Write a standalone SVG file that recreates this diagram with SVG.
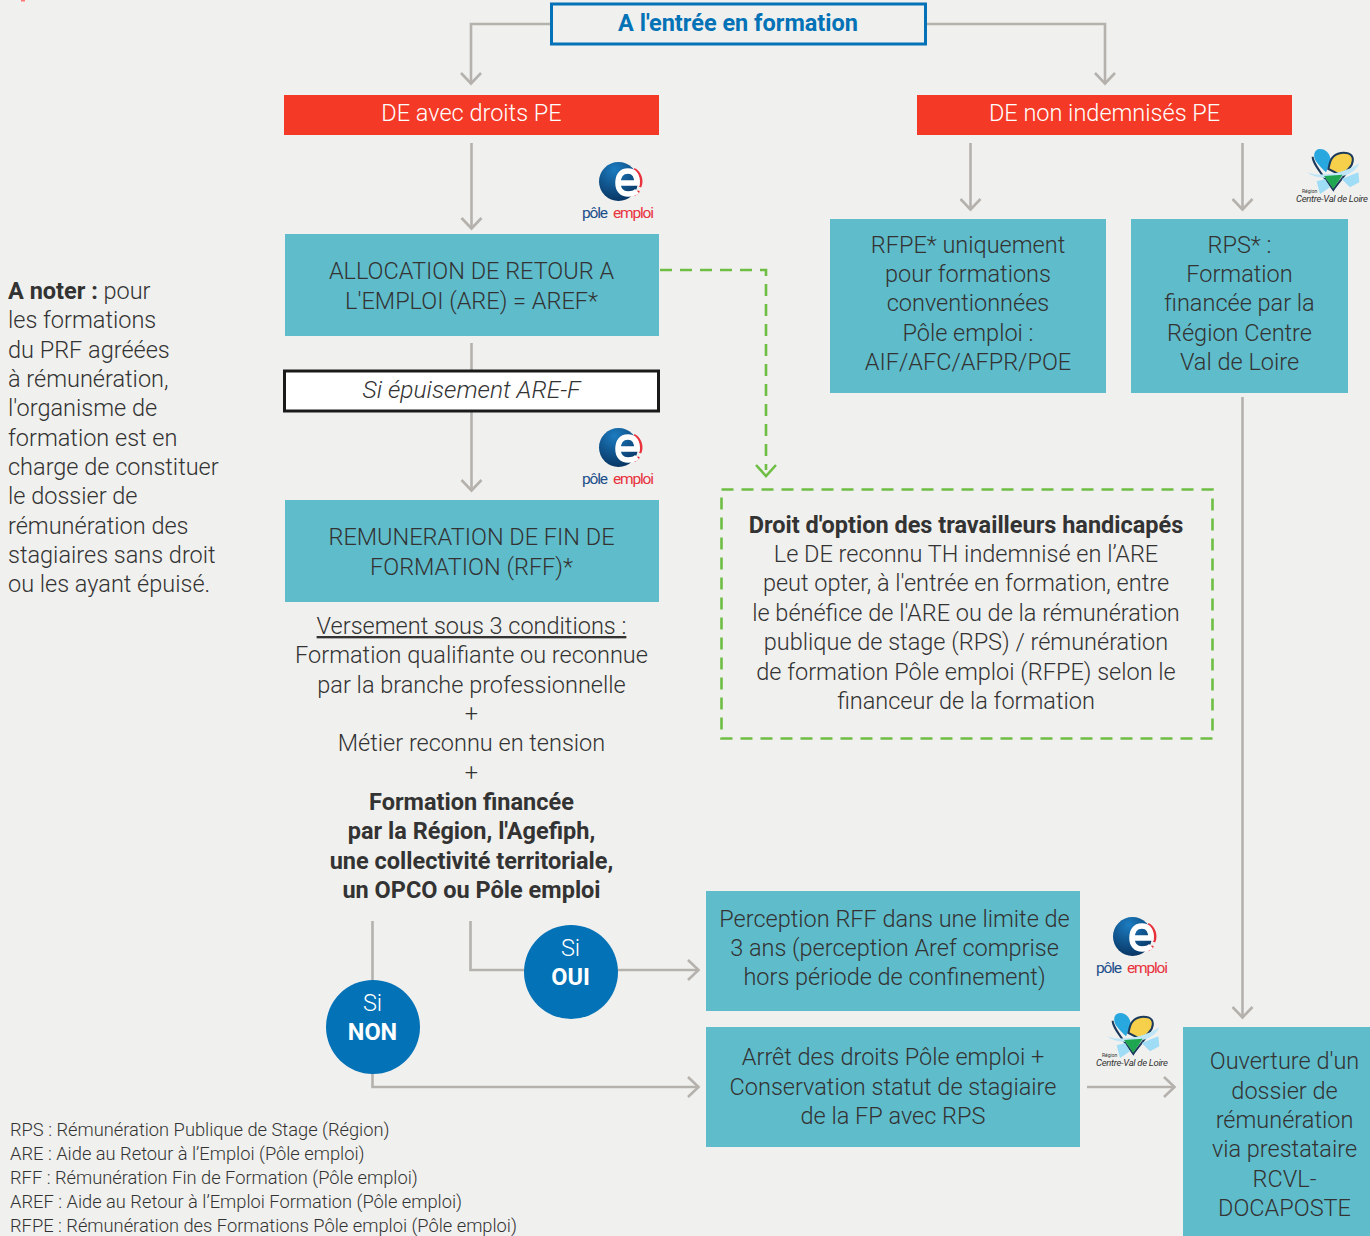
<svg xmlns="http://www.w3.org/2000/svg" width="1370" height="1236" viewBox="0 0 1370 1236">
<style>
text{font-family:Roboto,"Liberation Sans",sans-serif;font-weight:300;font-size:23.5px;fill:#333333}
.c{text-anchor:middle}
.b{font-weight:700}
.teal{fill:#5fbccb}
.red{fill:#f43a26}
.w{fill:#ffffff}
.leg{font-size:18.3px}
.conn{fill:none;stroke:#b5b2ae;stroke-width:2.6}
.circ{fill:#0472b6}
</style>
<defs>
<marker id="ah" markerUnits="userSpaceOnUse" viewBox="0 0 16 24" refX="13.500" refY="12" markerWidth="16" markerHeight="24" orient="auto"><path d="M2.500 2L13 12L2.500 22" fill="none" stroke="#b5b2ae" stroke-width="2.6"/></marker>
<radialGradient id="pe" cx="0.4" cy="0.2" r="0.85"><stop offset="0" stop-color="#1c7cc0"/><stop offset="1" stop-color="#07325f"/></radialGradient>
<g id="pelogo">
<circle cx="-0.500" cy="-0.500" r="19.500" fill="url(#pe)"/>
<path d="M15 -13A14 14 0 0 1 21 5M20 9A14 14 0 0 1 15 13" fill="none" stroke="#e8323c" stroke-width="2.5"/>
<path d="M0 1H18C18 -7 15 -11 9 -11C2 -11 -1 -6 -1 1C-1 8 3 12 9 12C13 12 16 11 18 9" fill="none" stroke="#fff" stroke-width="5.500"/>
<text x="-37" y="36" textLength="26" style="font-size:15.5px;font-weight:400;fill:#1b4f8a">pôle</text>
<text x="-6" y="36" textLength="41" style="font-size:15.5px;font-weight:400;fill:#e8323c">emploi</text>
</g>
<g id="rclogo">
<g transform="scale(0.3333) translate(-99 -84)">
<path d="M60 15C40 15 38 40 50 55C58 65 70 78 78 85C85 70 90 55 92 45C88 25 75 15 60 15Z" fill="#29a8e0"/>
<path d="M92 50C100 30 125 22 145 28C165 35 160 60 148 72C140 82 125 88 115 90L85 75C88 65 88 60 92 50Z" fill="#f6cf4b" stroke="#1b3a5c" stroke-width="6"/>
<path d="M38 38C38 60 70 95 100 138C112 120 135 95 148 72" fill="none" stroke="#1b3a5c" stroke-width="6"/>
<path d="M20 85C60 100 130 90 178 58C170 80 140 100 100 100C70 105 40 100 20 85Z" fill="#bfe6f7"/>
<path d="M72 96L128 92L100 134Z" fill="#1fa650"/>
<path d="M50 112L75 105L90 130L60 150ZM125 105L175 85L178 115L150 130Z" fill="#9fdcf5"/>
</g>
<text x="-31" y="21" style="font-size:5px;font-weight:400">Région</text>
<text x="-37" y="30" textLength="72" lengthAdjust="spacing" style="font-size:9.5px;font-weight:400;font-style:italic">Centre-Val de Loire</text>
</g>
</defs>
<rect width="1370" height="1236" fill="#f0f0ee"/>
<rect x="21" y="0" width="4" height="1.500" fill="#f77"/>

<g id="connectors">
<path class="conn" d="M551 24H471V84" marker-end="url(#ah)"/>
<path class="conn" d="M926 24H1105V84" marker-end="url(#ah)"/>
<path class="conn" d="M471.500 143V229" marker-end="url(#ah)"/>
<path class="conn" d="M970.500 143V210" marker-end="url(#ah)"/>
<path class="conn" d="M1242.500 143V210" marker-end="url(#ah)"/>
<path class="conn" d="M471.500 343V371"/>
<path class="conn" d="M471.500 411V491" marker-end="url(#ah)"/>
<path d="M660 270H766V470" fill="none" stroke="#6fbe44" stroke-width="2.6" stroke-dasharray="12 8"/>
<path d="M756 465L766 476L776 465" fill="none" stroke="#6fbe44" stroke-width="2.6"/>
<path class="conn" d="M1242.500 397V1018" marker-end="url(#ah)"/>
<path class="conn" d="M470.500 921V970H699" marker-end="url(#ah)"/>
<path class="conn" d="M372.500 921V1087H699" marker-end="url(#ah)"/>
<path class="conn" d="M1087 1087H1175" marker-end="url(#ah)"/>
</g>

<g id="n-entree">
<rect x="551.500" y="4" width="374" height="40" fill="#f0f0ee" stroke="#0472b6" stroke-width="3"/>
<text class="c b" x="738" y="31" style="fill:#0472b6">A l'entrée en formation</text>
</g>
<g id="n-de-droits"><rect class="red" x="284" y="95" width="375" height="40"/><text class="c w" x="471.500" y="121">DE avec droits PE</text></g>
<g id="n-de-non"><rect class="red" x="917" y="95" width="375" height="40"/><text class="c w" x="1104.500" y="121">DE non indemnisés PE</text></g>
<g id="n-are"><rect class="teal" x="285" y="234" width="374" height="102"/>
<text class="c" x="471.500" y="279">ALLOCATION DE RETOUR A</text><text class="c" x="471.500" y="309">L'EMPLOI (ARE) = AREF*</text></g>
<g id="n-epuisement"><rect x="284.500" y="371" width="374" height="40" fill="#fff" stroke="#1a1a1a" stroke-width="3"/>
<text class="c" x="471.500" y="398" font-style="italic" style="font-size:24.6px">Si épuisement ARE-F</text></g>
<g id="n-rff"><rect class="teal" x="285" y="500" width="374" height="102"/>
<text class="c" x="471.500" y="545">REMUNERATION DE FIN DE</text><text class="c" x="471.500" y="575">FORMATION (RFF)*</text></g>
<g id="n-rfpe"><rect class="teal" x="830" y="219" width="276" height="174"/>
<text class="c" x="968" y="252.500">RFPE* uniquement</text><text class="c" x="968" y="282">pour formations</text><text class="c" x="968" y="311">conventionnées</text><text class="c" x="968" y="340.500">Pôle emploi :</text><text class="c" x="968" y="370">AIF/AFC/AFPR/POE</text></g>
<g id="n-rps"><rect class="teal" x="1131" y="219" width="217" height="174"/>
<text class="c" x="1239.500" y="252.500">RPS* :</text><text class="c" x="1239.500" y="282">Formation</text><text class="c" x="1239.500" y="311">financée par la</text><text class="c" x="1239.500" y="340.500">Région Centre</text><text class="c" x="1239.500" y="370">Val de Loire</text></g>
<g id="n-option"><rect x="721.500" y="489.500" width="491" height="249" fill="none" stroke="#6fbe44" stroke-width="2.6" stroke-dasharray="12 8"/>
<text class="c b" x="966" y="533">Droit d'option des travailleurs handicapés</text>
<text class="c" x="966" y="562">Le DE reconnu TH indemnisé en l’ARE</text>
<text class="c" x="966" y="591">peut opter, à l'entrée en formation, entre</text>
<text class="c" x="966" y="621">le bénéfice de l'ARE ou de la rémunération</text>
<text class="c" x="966" y="650">publique de stage (RPS) / rémunération</text>
<text class="c" x="966" y="680">de formation Pôle emploi (RFPE) selon le</text>
<text class="c" x="966" y="709">financeur de la formation</text></g>
<g id="n-note">
<text x="8" y="299"><tspan class="b">A noter :</tspan> pour</text>
<text x="8" y="328">les formations</text>
<text x="8" y="358">du PRF agréées</text>
<text x="8" y="387">à rémunération,</text>
<text x="8" y="416">l'organisme de</text>
<text x="8" y="446">formation est en</text>
<text x="8" y="475">charge de constituer</text>
<text x="8" y="504">le dossier de</text>
<text x="8" y="534">rémunération des</text>
<text x="8" y="563">stagiaires sans droit</text>
<text x="8" y="592">ou les ayant épuisé.</text>
</g>
<g id="n-conditions">
<text class="c" x="471.500" y="634" text-decoration="underline">Versement sous 3 conditions :</text>
<text class="c" x="471.500" y="663">Formation qualifiante ou reconnue</text>
<text class="c" x="471.500" y="693">par la branche professionnelle</text>
<text class="c" x="471.500" y="722">+</text>
<text class="c" x="471.500" y="750.500">Métier reconnu en tension</text>
<text class="c" x="471.500" y="781">+</text>
<text class="c b" x="471.500" y="809.500">Formation financée</text>
<text class="c b" x="471.500" y="839">par la Région, l'Agefiph,</text>
<text class="c b" x="471.500" y="868.500">une collectivité territoriale,</text>
<text class="c b" x="471.500" y="898">un OPCO ou Pôle emploi</text>
</g>
<g id="n-oui"><circle class="circ" cx="571" cy="972" r="47"/><text class="c w" x="570.500" y="955.500">Si</text><text class="c b w" x="570.500" y="985">OUI</text></g>
<g id="n-non"><circle class="circ" cx="373" cy="1027" r="47"/><text class="c w" x="372.500" y="1010.500">Si</text><text class="c b w" x="372.500" y="1040">NON</text></g>
<g id="n-perception"><rect class="teal" x="706" y="891" width="374" height="120"/>
<text class="c" x="894.500" y="926.500">Perception RFF dans une limite de</text><text class="c" x="894.500" y="956">3 ans (perception Aref comprise</text><text class="c" x="894.500" y="985">hors période de confinement)</text></g>
<g id="n-arret"><rect class="teal" x="706" y="1027" width="374" height="120"/>
<text class="c" x="893" y="1065">Arrêt des droits Pôle emploi +</text><text class="c" x="893" y="1095">Conservation statut de stagiaire</text><text class="c" x="893" y="1124">de la FP avec RPS</text></g>
<g id="n-ouverture"><rect class="teal" x="1183" y="1027" width="187" height="209"/>
<text class="c" x="1284.500" y="1069">Ouverture d'un</text><text class="c" x="1284.500" y="1099">dossier de</text><text class="c" x="1284.500" y="1128">rémunération</text><text class="c" x="1284.500" y="1157">via prestataire</text><text class="c" x="1284.500" y="1187">RCVL-</text><text class="c" x="1284.500" y="1216">DOCAPOSTE</text></g>
<g id="logo-pe1"><use href="#pelogo" x="619" y="182"/></g>
<g id="logo-pe2"><use href="#pelogo" x="619" y="448"/></g>
<g id="logo-pe3"><use href="#pelogo" x="1133" y="937"/></g>
<g id="logo-rc1"><use href="#rclogo" x="1333" y="172"/></g>
<g id="logo-rc2"><use href="#rclogo" x="1133" y="1036"/></g>
<g id="n-legend">
<text class="leg" x="10" y="1136">RPS : Rémunération Publique de Stage (Région)</text>
<text class="leg" x="10" y="1160">ARE : Aide au Retour à l’Emploi (Pôle emploi)</text>
<text class="leg" x="10" y="1184">RFF : Rémunération Fin de Formation (Pôle emploi)</text>
<text class="leg" x="10" y="1208">AREF : Aide au Retour à l’Emploi Formation (Pôle emploi)</text>
<text class="leg" x="10" y="1232">RFPE : Rémunération des Formations Pôle emploi (Pôle emploi)</text>
</g>
</svg>
